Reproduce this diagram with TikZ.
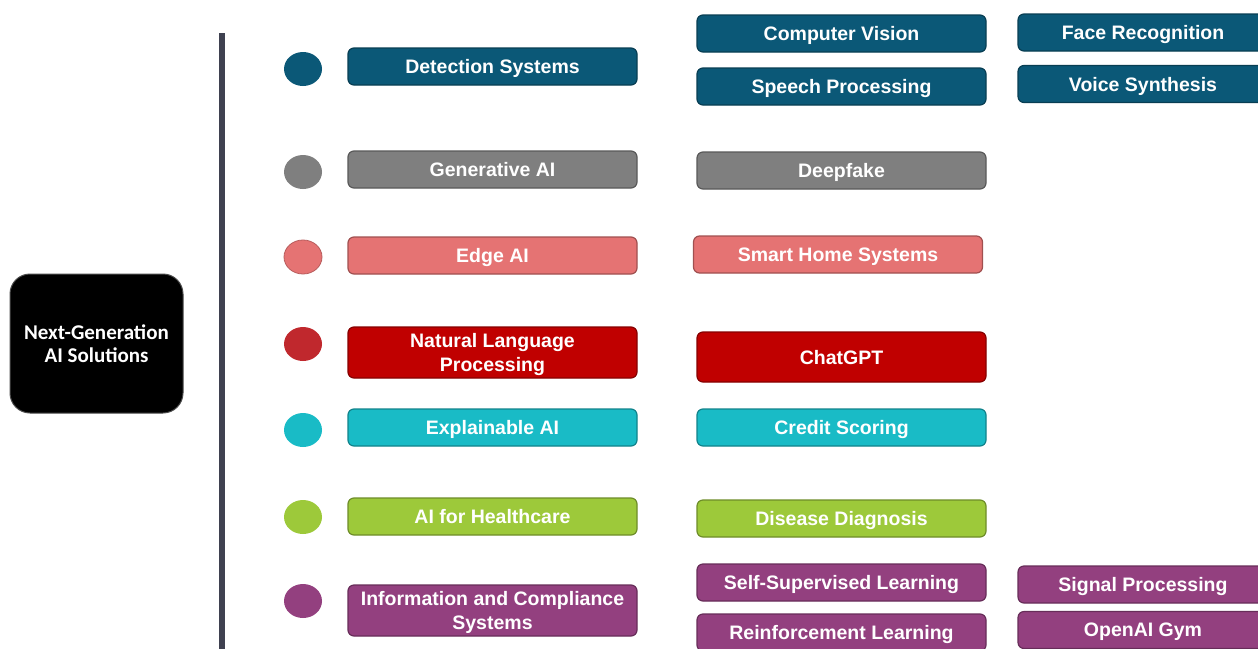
\documentclass[tikz,border=0pt]{standalone}
\usepackage{fontspec}
\setmainfont{Liberation Sans}
\newfontfamily\calfont{Carlito}
\usetikzlibrary{shapes.geometric}
\definecolor{cdet}{HTML}{0B5877}
\definecolor{cgen}{HTML}{7F7F7F}
\definecolor{cedge}{HTML}{E57373}
\definecolor{cnlp}{HTML}{C00000}
\definecolor{cnlpdot}{HTML}{C0282D}
\definecolor{cxai}{HTML}{19BBC6}
\definecolor{chc}{HTML}{9DC93A}
\definecolor{cinfo}{HTML}{93407F}
\definecolor{cline}{HTML}{3F4150}
\tikzset{
  boxbase/.style={rectangle, rounded corners=6pt, line width=1.2pt, text=white,
    font=\bfseries\fontsize{19.5}{23.5}\selectfont, align=center, inner sep=0pt,
    text depth=0pt},
  catbox/.style={boxbase, fill=#1, draw=#1!70!black, minimum width=289pt, minimum height=37pt},
  subbox/.style={boxbase, fill=#1, draw=#1!70!black, minimum width=289pt, minimum height=37pt},
  farbox/.style={boxbase, fill=#1, draw=#1!70!black, minimum width=250pt, minimum height=37pt},
  dotmark/.style={ellipse, fill=#1, draw=none, minimum width=38pt, minimum height=34pt, inner sep=0pt},
}
\begin{document}
\begin{tikzpicture}[x=1pt,y=-1pt]
\useasboundingbox (0,0) rectangle (1258,648);
\fill[white] (0,0) rectangle (1258,648);
% root
\node[rectangle, rounded corners=20pt, fill=black, draw=black!70, line width=1pt,
  minimum width=173pt, minimum height=139pt, text=white, align=center,
  font=\calfont\bfseries\fontsize{21}{23}\selectfont] (root) at (96.5,343.5) {Next-Generation\\AI Solutions};
% vertical line
\coordinate (ltop) at (222,33);
\coordinate (lbot) at (222,650);
\draw[cline, line width=6pt] (ltop) -- (lbot);
% dots
\node[dotmark=cdet] (d1) at (303,69) {};
\node[dotmark=cgen] (d2) at (303,172) {};
\node[dotmark=cedge, draw=cedge!80!black, line width=0.8pt] (d3) at (303,257) {};
\node[dotmark=cnlpdot] (d4) at (303,344) {};
\node[dotmark=cxai] (d5) at (303,430) {};
\node[dotmark=chc] (d6) at (303,517) {};
\node[dotmark=cinfo] (d7) at (303,601) {};
% categories
\node[catbox=cdet] (det) at (492.5,66.5) {Detection Systems};
\node[catbox=cgen] (gen) at (492.5,169.5) {Generative AI};
\node[catbox=cedge] (edge) at (492.5,255.5) {Edge AI};
\node[catbox=cnlp, minimum height=51pt] (nlp) at (492.5,352.5) {Natural Language\\Processing};
\node[catbox=cxai] (xai) at (492.5,427.5) {Explainable AI};
\node[catbox=chc] (hc) at (492.5,516.5) {AI for Healthcare};
\node[catbox=cinfo, minimum height=51pt] (info) at (492.5,610.5) {Information and Compliance\\Systems};
% second column
\node[subbox=cdet] (cv) at (841.5,33.5) {Computer Vision};
\node[subbox=cdet] (sp) at (841.5,86.5) {Speech Processing};
\node[subbox=cgen] (deep) at (841.5,170.5) {Deepfake};
\node[subbox=cedge] (smart) at (838,254.5) {Smart Home Systems};
\node[subbox=cnlp, minimum height=50pt] (chat) at (841.5,357) {ChatGPT};
\node[subbox=cxai] (credit) at (841.5,427.5) {Credit Scoring};
\node[subbox=chc] (disease) at (841.5,518.5) {Disease Diagnosis};
\node[subbox=cinfo] (ssl) at (841.5,582.5) {Self-Supervised Learning};
\node[subbox=cinfo] (rl) at (841.5,632.5) {Reinforcement Learning};
% third column
\node[farbox=cdet] (face) at (1143,32.5) {Face Recognition};
\node[farbox=cdet] (voice) at (1143,84) {Voice Synthesis};
\node[farbox=cinfo] (signal) at (1143,584.5) {Signal Processing};
\node[farbox=cinfo] (gym) at (1143,630) {OpenAI Gym};
\end{tikzpicture}
\end{document}
